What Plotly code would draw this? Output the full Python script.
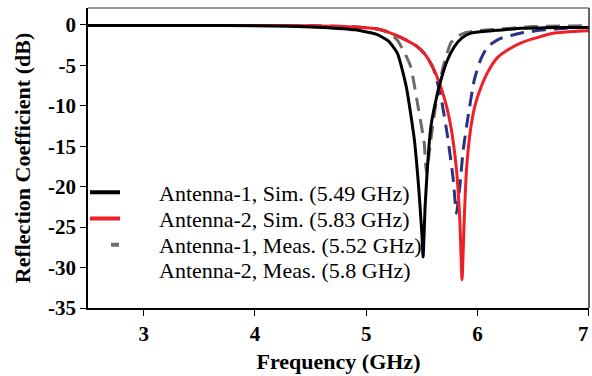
import plotly.graph_objects as go

# Antenna-1 simulated
a1_sim_f = [2.5, 3.0, 3.5, 4.0, 4.3, 4.6, 4.9, 5.1, 5.2, 5.28, 5.36, 5.43, 5.47, 5.5, 5.51, 5.53, 5.58, 5.63, 5.67, 5.73, 5.79, 5.86, 5.94, 6.1, 6.24, 6.39, 6.6, 6.8, 7.0]
a1_sim_db = [-0.05, -0.05, -0.05, -0.1, -0.15, -0.3, -0.6, -1.2, -2.0, -3.5, -7.7, -14.0, -20.0, -26.0, -28.7, -22.0, -12.6, -9.0, -6.8, -4.3, -2.7, -1.6, -1.0, -0.75, -0.6, -0.4, -0.35, -0.3, -0.3]

# Antenna-2 simulated
a2_sim_f = [2.5, 3.0, 3.5, 4.0, 4.5, 4.9, 5.1, 5.22, 5.35, 5.45, 5.52, 5.6, 5.67, 5.72, 5.76, 5.81, 5.84, 5.86, 5.88, 5.9, 5.94, 5.98, 6.03, 6.1, 6.18, 6.28, 6.39, 6.55, 6.69, 6.85, 7.0]
a2_sim_db = [-0.05, -0.05, -0.05, -0.05, -0.1, -0.25, -0.5, -1.0, -1.8, -2.6, -3.5, -5.3, -7.7, -10.0, -12.6, -17.9, -24.1, -31.5, -24.0, -17.9, -12.6, -9.8, -7.7, -5.6, -4.0, -3.0, -2.2, -1.5, -1.0, -0.8, -0.7]

# Antenna-1 measured
a1_meas_f = [2.5, 3.0, 3.5, 4.0, 4.5, 4.9, 5.1, 5.2, 5.28, 5.35, 5.4, 5.47, 5.52, 5.54, 5.58, 5.63, 5.69, 5.76, 5.82, 5.88, 6.0, 6.2, 6.5, 7.0]
a1_meas_db = [-0.05, -0.05, -0.05, -0.05, -0.1, -0.25, -0.5, -0.9, -1.9, -3.6, -5.2, -10.5, -14.6, -18.3, -14.2, -9.3, -5.2, -2.2, -1.4, -1.0, -0.7, -0.5, -0.2, -0.1]

# Antenna-2 measured
a2_meas_f = [2.5, 3.0, 3.5, 4.0, 4.5, 4.9, 5.1, 5.22, 5.35, 5.45, 5.52, 5.6, 5.67, 5.73, 5.78, 5.81, 5.84, 5.87, 5.91, 5.97, 6.03, 6.09, 6.2, 6.39, 6.6, 6.8, 7.0]
a2_meas_db = [-0.05, -0.05, -0.05, -0.05, -0.1, -0.25, -0.5, -1.0, -1.8, -2.6, -3.5, -5.3, -8.9, -13.8, -19.0, -23.3, -20.0, -15.5, -11.7, -6.8, -4.2, -2.7, -1.7, -1.0, -0.6, -0.4, -0.3]

names = ["Antenna-1, Sim. (5.49 GHz)", "Antenna-2, Sim. (5.83 GHz)",
         "Antenna-1, Meas. (5.52 GHz)", "Antenna-2, Meas. (5.8 GHz)"]

x_ticks = [3, 4, 5, 6, 7]
y_ticks = [0, -5, -10, -15, -20, -25, -30, -35]

font_family = "Liberation Serif, Times New Roman, serif"
SM = 0.5

fig = go.Figure()
fig.add_trace(go.Scatter(x=a2_meas_f, y=a2_meas_db, mode="lines", name=names[3],
                         line=dict(color="#2b3282", width=3, dash="14px,8px", shape="spline", smoothing=SM),
                         showlegend=False))
fig.add_trace(go.Scatter(x=a1_meas_f, y=a1_meas_db, mode="lines", name=names[2],
                         line=dict(color="#6e6a6a", width=3, dash="14px,8px", shape="spline", smoothing=SM),
                         showlegend=False))
fig.add_trace(go.Scatter(x=a2_sim_f, y=a2_sim_db, mode="lines", name=names[1],
                         line=dict(color="#ee2026", width=3, shape="spline", smoothing=SM),
                         showlegend=False))
fig.add_trace(go.Scatter(x=a1_sim_f, y=a1_sim_db, mode="lines", name=names[0],
                         line=dict(color="#000000", width=3, shape="spline", smoothing=SM),
                         showlegend=False))

# legend entries, each in its own legend box
legend_styles = [
    dict(color="#000000", width=4, dash="30px,300px"),
    dict(color="#ee2026", width=4, dash="30px,300px"),
    dict(color="#6e6a6a", width=4, dash="0px,21px,8px,300px"),
    dict(color="rgba(0,0,0,0)", width=4),
]
legend_ids = ["legend", "legend2", "legend3", "legend4"]
legend_y = [0.385, 0.298, 0.210, 0.127]
for nm, st, lid in zip(names, legend_styles, legend_ids):
    fig.add_trace(go.Scatter(x=[None], y=[None], mode="lines", name=nm, line=st, legend=lid))

legend_common = dict(x=-0.006, xanchor="left", yanchor="middle", bgcolor="rgba(0,0,0,0)",
                     font=dict(size=22, family=font_family, color="black"), itemwidth=64)
layout_legends = {lid: dict(y=ly, **legend_common) for lid, ly in zip(legend_ids, legend_y)}

# last x tick label sits at the right edge: draw it as a right-anchored annotation so it stays visible
x_ticktext = [str(v) for v in x_ticks[:-1]] + [""]

fig.update_layout(
    width=592, height=376,
    margin=dict(l=88, r=3, t=8, b=68, autoexpand=False),
    paper_bgcolor="white", plot_bgcolor="white",
    font=dict(family=font_family, color="black"),
    showlegend=True,
    xaxis=dict(range=[2.5, 7.0005], tickvals=x_ticks, ticktext=x_ticktext,
               showgrid=False, zeroline=False, showline=True, linecolor="black", linewidth=1.5,
               ticks="outside", ticklen=6, tickcolor="black", automargin=False,
               tickfont=dict(size=21, family=font_family, weight="bold"),
               title=dict(text="<b>Frequency (GHz)</b>", font=dict(size=22, family=font_family), standoff=9)),
    yaxis=dict(range=[-35, 2.1], tickvals=y_ticks, ticktext=[str(v) for v in y_ticks],
               showgrid=False, zeroline=False, showline=True, linecolor="black", linewidth=1.5,
               ticks="outside", ticklen=6, tickcolor="black", automargin=False,
               tickfont=dict(size=21, family=font_family, weight="bold"),
               title=dict(text="<b>Reflection Coefficient (dB)</b>", font=dict(size=22, family=font_family), standoff=11)),
    annotations=[
        dict(x=x_ticks[-1], xref="x", y=0, yref="paper", text="<b>%d</b>" % x_ticks[-1],
             xanchor="right", yanchor="middle", yshift=-26, xshift=2, showarrow=False,
             font=dict(size=21, family=font_family, color="black")),
    ],
    shapes=[
        dict(type="line", xref="paper", yref="paper", x0=0, x1=1, y0=1, y1=1,
             line=dict(color="#777777", width=1.5)),
        dict(type="line", xref="paper", yref="paper", x0=1, x1=1, y0=0, y1=1,
             line=dict(color="#333333", width=1.5)),
    ],
    **layout_legends,
)

fig.write_html("out.html")
